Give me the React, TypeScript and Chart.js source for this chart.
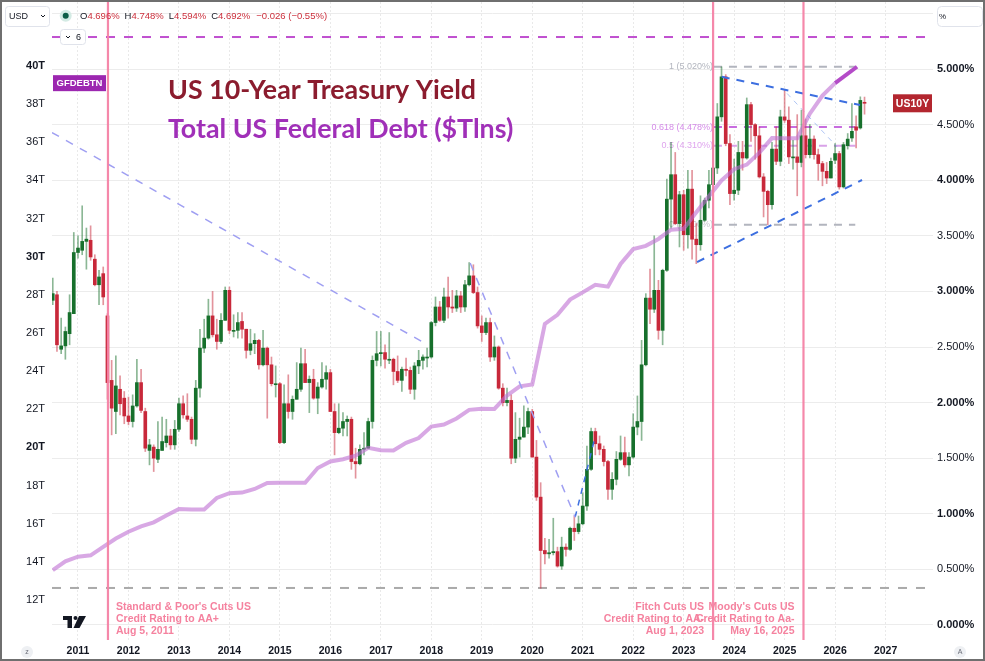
import React, { useEffect, useRef } from "react";
import { Chart, registerables } from "chart.js";

Chart.register(...registerables);

// ===================== DATA =====================
// Monthly candles of the US 10-Year Treasury yield (%): [open, high, low, close]
// y2010 starts with July 2010; every following array is Jan..Dec.
const y2010 = [
  [2.92, 3.12, 2.88, 2.98], [2.97, 3.0, 2.46, 2.52], [2.48, 2.76, 2.44, 2.51],
  [2.51, 2.68, 2.39, 2.64], [2.62, 2.97, 2.52, 2.81], [2.8, 3.53, 2.8, 3.35],
];
const y2011 = [
  [3.35, 3.5, 3.3, 3.39], [3.37, 3.77, 3.33, 3.45], [3.45, 3.57, 3.2, 3.47],
  [3.46, 3.59, 3.28, 3.31], [3.29, 3.33, 3.05, 3.06], [3.06, 3.19, 2.88, 3.13],
  [3.16, 3.22, 2.88, 2.95], [2.78, 2.8, 2.03, 2.18], [2.2, 2.38, 1.71, 1.95],
  [1.92, 2.42, 1.72, 2.15], [2.12, 2.24, 1.89, 1.99], [2.04, 2.1, 1.81, 1.88],
];
const y2012 = [
  [1.88, 2.05, 1.8, 1.83], [1.83, 2.07, 1.78, 1.97], [1.97, 2.39, 1.96, 2.18],
  [2.18, 2.3, 1.91, 1.93], [1.92, 1.95, 1.56, 1.59], [1.57, 1.67, 1.44, 1.62],
  [1.6, 1.62, 1.38, 1.5], [1.49, 1.83, 1.46, 1.58], [1.57, 1.87, 1.57, 1.65],
  [1.64, 1.85, 1.6, 1.7], [1.7, 1.76, 1.58, 1.62], [1.62, 1.84, 1.58, 1.76],
];
const y2013 = [
  [1.76, 2.04, 1.74, 1.99], [1.99, 2.06, 1.86, 1.89], [1.88, 2.08, 1.83, 1.85],
  [1.85, 1.87, 1.63, 1.67], [1.67, 2.2, 1.61, 2.13], [2.13, 2.66, 2.05, 2.49],
  [2.49, 2.75, 2.45, 2.58], [2.58, 2.93, 2.57, 2.78], [2.78, 3.0, 2.59, 2.61],
  [2.61, 2.75, 2.48, 2.55], [2.55, 2.8, 2.53, 2.74], [2.74, 3.04, 2.74, 3.01],
];
const y2014 = [
  [3.01, 3.04, 2.62, 2.65], [2.65, 2.79, 2.59, 2.65], [2.65, 2.81, 2.58, 2.72],
  [2.73, 2.81, 2.58, 2.66], [2.66, 2.66, 2.4, 2.47], [2.47, 2.66, 2.43, 2.53],
  [2.53, 2.62, 2.44, 2.56], [2.56, 2.57, 2.3, 2.34], [2.34, 2.65, 2.33, 2.49],
  [2.49, 2.5, 1.86, 2.34], [2.34, 2.41, 2.15, 2.17], [2.17, 2.33, 2.05, 2.17],
];
const y2015 = [
  [2.17, 2.18, 1.63, 1.64], [1.64, 2.16, 1.63, 1.99], [1.99, 2.25, 1.86, 1.92],
  [1.92, 2.06, 1.85, 2.03], [2.03, 2.36, 2.03, 2.12], [2.12, 2.49, 2.1, 2.35],
  [2.35, 2.48, 2.18, 2.18], [2.18, 2.24, 1.91, 2.21], [2.21, 2.3, 2.03, 2.04],
  [2.04, 2.18, 1.9, 2.14], [2.14, 2.36, 2.13, 2.21], [2.21, 2.33, 2.12, 2.27],
];
const y2016 = [
  [2.27, 2.3, 1.92, 1.92], [1.92, 1.99, 1.53, 1.73], [1.73, 1.99, 1.72, 1.77],
  [1.77, 1.91, 1.7, 1.83], [1.83, 1.88, 1.7, 1.85], [1.85, 1.87, 1.4, 1.47],
  [1.47, 1.59, 1.32, 1.45], [1.45, 1.62, 1.44, 1.58], [1.58, 1.73, 1.53, 1.59],
  [1.59, 1.86, 1.59, 1.83], [1.83, 2.42, 1.77, 2.38], [2.38, 2.64, 2.33, 2.44],
];
const y2017 = [
  [2.44, 2.64, 2.33, 2.45], [2.45, 2.52, 2.31, 2.39], [2.39, 2.63, 2.35, 2.39],
  [2.39, 2.4, 2.16, 2.28], [2.28, 2.42, 2.18, 2.2], [2.2, 2.32, 2.1, 2.3],
  [2.3, 2.4, 2.24, 2.29], [2.29, 2.32, 2.08, 2.12], [2.12, 2.36, 2.03, 2.33],
  [2.33, 2.47, 2.26, 2.38], [2.38, 2.43, 2.3, 2.41], [2.41, 2.49, 2.32, 2.41],
];
const y2018 = [
  [2.41, 2.73, 2.4, 2.72], [2.72, 2.95, 2.69, 2.86], [2.86, 2.91, 2.73, 2.74],
  [2.74, 3.03, 2.72, 2.95], [2.95, 3.13, 2.76, 2.86], [2.86, 3.01, 2.81, 2.85],
  [2.85, 3.01, 2.82, 2.96], [2.96, 3.0, 2.81, 2.86], [2.86, 3.1, 2.82, 3.06],
  [3.06, 3.26, 3.05, 3.14], [3.14, 3.24, 2.98, 2.99], [2.99, 3.04, 2.67, 2.69],
];
const y2019 = [
  [2.69, 2.78, 2.55, 2.63], [2.63, 2.76, 2.61, 2.72], [2.72, 2.76, 2.37, 2.41],
  [2.41, 2.6, 2.38, 2.5], [2.5, 2.51, 2.12, 2.13], [2.13, 2.17, 1.97, 2.0],
  [2.0, 2.13, 1.97, 2.02], [2.02, 2.07, 1.45, 1.5], [1.5, 1.91, 1.46, 1.67],
  [1.67, 1.86, 1.51, 1.69], [1.69, 1.97, 1.69, 1.78], [1.78, 1.95, 1.72, 1.92],
];
const y2020 = [
  [1.92, 1.94, 1.51, 1.51], [1.51, 1.66, 1.12, 1.15], [1.15, 1.28, 0.33, 0.67],
  [0.67, 0.78, 0.55, 0.64], [0.64, 0.77, 0.6, 0.65], [0.65, 0.96, 0.63, 0.66],
  [0.66, 0.7, 0.52, 0.53], [0.53, 0.79, 0.5, 0.7], [0.7, 0.73, 0.62, 0.68],
  [0.68, 0.88, 0.67, 0.87], [0.87, 0.98, 0.76, 0.84], [0.84, 0.98, 0.82, 0.91],
];
const y2021 = [
  [0.91, 1.19, 0.9, 1.07], [1.07, 1.61, 1.03, 1.4], [1.4, 1.77, 1.39, 1.74],
  [1.74, 1.77, 1.53, 1.63], [1.63, 1.7, 1.53, 1.58], [1.58, 1.61, 1.43, 1.47],
  [1.47, 1.48, 1.13, 1.22], [1.22, 1.37, 1.13, 1.31], [1.31, 1.56, 1.26, 1.49],
  [1.49, 1.7, 1.48, 1.55], [1.55, 1.69, 1.42, 1.44], [1.44, 1.55, 1.34, 1.51],
];
const y2022 = [
  [1.51, 1.9, 1.5, 1.78], [1.78, 2.06, 1.71, 1.83], [1.83, 2.56, 1.66, 2.34],
  [2.34, 2.98, 2.33, 2.94], [2.94, 3.2, 2.71, 2.84], [2.84, 3.5, 2.81, 3.01],
  [3.01, 3.1, 2.57, 2.65], [2.65, 3.2, 2.52, 3.19], [3.19, 4.01, 3.18, 3.83],
  [3.83, 4.34, 3.57, 4.05], [4.05, 4.25, 3.6, 3.61], [3.61, 3.9, 3.4, 3.87],
];
const y2023 = [
  [3.87, 3.91, 3.37, 3.51], [3.51, 4.09, 3.39, 3.92], [3.92, 4.09, 3.29, 3.47],
  [3.47, 3.61, 3.25, 3.42], [3.42, 3.86, 3.37, 3.64], [3.64, 3.84, 3.63, 3.82],
  [3.82, 4.09, 3.75, 3.96], [3.96, 4.36, 3.91, 4.11], [4.11, 4.69, 4.06, 4.57],
  [4.57, 5.02, 4.53, 4.93], [4.93, 4.95, 4.31, 4.33], [4.33, 4.41, 3.78, 3.88],
];
const y2024 = [
  [3.88, 4.19, 3.82, 3.91], [3.91, 4.35, 3.87, 4.25], [4.25, 4.35, 4.09, 4.2],
  [4.2, 4.74, 4.19, 4.68], [4.68, 4.7, 4.35, 4.5], [4.5, 4.51, 4.19, 4.4],
  [4.4, 4.48, 4.02, 4.03], [4.03, 4.06, 3.67, 3.9], [3.9, 3.91, 3.6, 3.78],
  [3.78, 4.34, 3.74, 4.28], [4.28, 4.48, 4.14, 4.17], [4.17, 4.63, 4.13, 4.57],
];
const y2025 = [
  [4.57, 4.81, 4.52, 4.54], [4.54, 4.66, 4.15, 4.21], [4.21, 4.36, 4.1, 4.21],
  [4.21, 4.59, 3.86, 4.16], [4.16, 4.63, 4.12, 4.4], [4.4, 4.55, 4.2, 4.23],
  [4.23, 4.5, 4.2, 4.37], [4.37, 4.4, 4.19, 4.23], [4.23, 4.28, 4.0, 4.15],
  [4.15, 4.17, 3.95, 4.08], [4.08, 4.16, 3.97, 4.02], [4.02, 4.2, 4.02, 4.17],
];
const y2026 = [
  [4.18, 4.33, 4.15, 4.24], [4.24, 4.26, 3.92, 3.94], [3.94, 4.34, 3.93, 4.32],
  [4.31, 4.42, 4.28, 4.37], [4.38, 4.69, 4.35, 4.44], [4.48, 4.58, 4.29, 4.45],
  [4.47, 4.75, 4.46, 4.718], [4.696, 4.748, 4.594, 4.692],
];
const candleYears = [y2010, y2011, y2012, y2013, y2014, y2015, y2016, y2017, y2018,
  y2019, y2020, y2021, y2022, y2023, y2024, y2025, y2026];
const firstCandle = 2010.5; // July 2010

// Total US Federal Debt (GFDEBTN), $ trillions, quarterly from Q3 2010
const debtQuarterly = [
  13.56, 14.03,
  14.27, 14.34, 14.79, 15.22,
  15.58, 15.86, 16.07, 16.43,
  16.77, 16.74, 16.74, 17.35,
  17.6, 17.63, 17.82, 18.14,
  18.15, 18.15, 18.15, 18.92,
  19.26, 19.38, 19.57, 19.98,
  19.85, 19.84, 20.24, 20.49,
  21.09, 21.2, 21.52, 21.97,
  22.03, 22.02, 22.72, 23.2,
  23.3, 26.48, 26.95, 27.75,
  28.13, 28.53, 28.43, 29.62,
  30.4, 30.57, 30.93, 31.42,
  31.46, 32.33, 33.17, 34.0,
  34.59, 34.83, 35.46, 36.22,
  36.21, 36.21, 37.5, 38.45,
  39.1,
];
const firstDebt = 2010.5;
const debtExtX = [2026.0, 2026.435];
const debtExtY = [39.1, 39.96];

// Axis ticks
const yearTicks = [2011, 2012, 2013, 2014, 2015, 2016, 2017, 2018, 2019, 2020, 2021, 2022, 2023, 2024, 2025, 2026, 2027];
const pctTicks = [0, 0.5, 1, 1.5, 2, 2.5, 3, 3.5, 4, 4.5, 5, 5.5];
const debtTicks = [12, 14, 16, 18, 20, 22, 24, 26, 28, 30, 32, 34, 36, 38, 40];

// Credit rating events
const ratingDates = [2011.594, 2023.583, 2025.374];
const ratingNotes = [
  ["Standard & Poor's Cuts US", "Credit Rating to AA+", "Aug 5, 2011"],
  ["Fitch Cuts US", "Credit Rating to AA-", "Aug 1, 2023"],
  ["Moody's Cuts US", "Credit Rating to Aa-", "May 16, 2025"],
];

// Fibonacci retracement
const fibLevels = [5.02, 4.478, 4.31, 3.6];
const fibLabels = ["1 (5.020%)", "0.618 (4.478%)", "0.5 (4.310%)", "0 (3.600%)"];
const fibRange = [2023.6, 2026.4];

// Horizontal levels
const capLevel = 5.288;
const floorLevel = 0.333;

// Trend lines [x0, x1], [y0, y1]
const upperTrendX = [2023.754, 2026.494], upperTrendY = [4.93, 4.676];
const lowerTrendX = [2023.265, 2026.534], lowerTrendY = [3.264, 4.002];
const longTrendX = [2010.485, 2017.935], longTrendY = [4.429, 2.518];
const dropTrendX = [2018.77, 2020.85], dropTrendY = [3.255, 0.97];
const reboundX = [2020.85, 2021.25], reboundY = [0.97, 1.7];
const pitchX = [2025.05, 2026.04], pitchY = [4.78, 4.3];

const titleLine1 = "US 10-Year Treasury Yield";
const titleLine2 = "Total US Federal Debt ($Tlns)";

// ===================== CHART =====================
const X_MIN = 2010.485, X_MAX = 2027.94;
const Y_MIN = -0.135, Y_MAX = 5.603;
const D_MIN = 9.902, D_MAX = 43.356;

const FONT = "'Liberation Sans', Arial, sans-serif";
const TFONT = "Lato, 'Liberation Sans', sans-serif";

const candles = candleYears.flat();
const candleX = candles.map((_, i) => firstCandle + i / 12);
const isUp = candles.map((c) => c[3] >= c[0]);
const lastCandle = candles[candles.length - 1];
const prevClose = candles[candles.length - 2][3];
const debtX = debtQuarterly.map((_, i) => firstDebt + i * 0.25);

const seg = (xs: number[], ys: number[]) => xs.map((x, i) => ({ x, y: ys[i] }));

function lineDs(data: any[], color: string, width: number, dash: number[], order: number, axis = "y") {
  return {
    type: "line" as const,
    data,
    borderColor: color,
    borderWidth: width,
    borderDash: dash,
    pointRadius: 0,
    fill: false,
    tension: 0,
    order,
    yAxisID: axis,
  };
}

function roundRect(ctx: CanvasRenderingContext2D, x: number, y: number, w: number, h: number, r: number) {
  ctx.beginPath();
  ctx.moveTo(x + r, y);
  ctx.arcTo(x + w, y, x + w, y + h, r);
  ctx.arcTo(x + w, y + h, x, y + h, r);
  ctx.arcTo(x, y + h, x, y, r);
  ctx.arcTo(x, y, x + w, y, r);
  ctx.closePath();
}

const fibTextColors = ["#b2b5be", "#d48be8", "#dfa5ee", "#c4c6cc"];

const overlayPlugin = {
  id: "overlay",
  beforeDraw(chart: any) {
    const { ctx, width, height } = chart;
    ctx.save();
    ctx.fillStyle = "#ffffff";
    ctx.fillRect(0, 0, width, height);
    ctx.restore();
  },
  beforeDatasetsDraw(chart: any) {
    const { ctx } = chart;
    const xs = chart.scales.x, ys = chart.scales.y;
    ctx.save();
    ctx.font = `9px ${FONT}`;
    ctx.textAlign = "right";
    ctx.textBaseline = "middle";
    const lx = xs.getPixelForValue(fibRange[0]) - 1;
    fibLevels.forEach((lv, i) => {
      ctx.fillStyle = fibTextColors[i];
      ctx.fillText(fibLabels[i], lx, ys.getPixelForValue(lv));
    });
    ctx.restore();
  },
  afterDraw(chart: any) {
    const { ctx, width, height } = chart;
    const xs = chart.scales.x, ys = chart.scales.y, yd = chart.scales.yL;
    ctx.save();

    // Titles
    ctx.textAlign = "left";
    ctx.textBaseline = "alphabetic";
    ctx.font = `bold 26.8px ${TFONT}`;
    ctx.fillStyle = "#8b1c2e";
    ctx.fillText(titleLine1, 168, 99);
    ctx.fillStyle = "#a030b8";
    ctx.fillText(titleLine2, 168, 138);

    // Rating notes
    ctx.font = `bold 10.5px ${FONT}`;
    ctx.fillStyle = "#f5829f";
    ctx.textBaseline = "middle";
    ratingDates.forEach((d, i) => {
      const px = xs.getPixelForValue(d);
      const left = i === 0;
      ctx.textAlign = left ? "left" : "right";
      const tx = left ? px + 8 : px - 9;
      ratingNotes[i].forEach((line, j) => ctx.fillText(line, tx, 607 + j * 12));
    });

    // GFDEBTN label
    const dy = yd.getPixelForValue(debtQuarterly[debtQuarterly.length - 1]);
    ctx.fillStyle = "#9c27b0";
    ctx.fillRect(53, dy - 8, 53, 16);
    ctx.fillStyle = "#ffffff";
    ctx.font = `bold 9.5px ${FONT}`;
    ctx.textAlign = "center";
    ctx.fillText("GFDEBTN", 79.5, dy + 0.5);

    // US10Y label
    const uy = ys.getPixelForValue(lastCandle[3]);
    ctx.fillStyle = "#b3262f";
    ctx.fillRect(893, uy - 9, 39, 18);
    ctx.fillStyle = "#ffffff";
    ctx.font = `bold 10.5px ${FONT}`;
    ctx.fillText("US10Y", 912.5, uy + 0.5);

    // Header: symbol box
    ctx.strokeStyle = "#e0e3eb";
    ctx.lineWidth = 1;
    ctx.fillStyle = "#ffffff";
    roundRect(ctx, 5.5, 6.5, 44, 20, 3);
    ctx.fill();
    ctx.stroke();
    ctx.fillStyle = "#131722";
    ctx.font = `9px ${FONT}`;
    ctx.textAlign = "left";
    ctx.fillText("USD", 9, 16.5);
    ctx.strokeStyle = "#131722";
    ctx.beginPath();
    ctx.moveTo(41, 15);
    ctx.lineTo(43, 17);
    ctx.lineTo(45, 15);
    ctx.stroke();

    // status icon
    ctx.fillStyle = "#d4ebe4";
    ctx.beginPath();
    ctx.arc(65.7, 15.7, 6, 0, Math.PI * 2);
    ctx.fill();
    ctx.fillStyle = "#0d5e47";
    ctx.beginPath();
    ctx.arc(65.7, 15.7, 3, 0, Math.PI * 2);
    ctx.fill();

    // OHLC
    const red = "#cc2f3c";
    ctx.font = `9.5px ${FONT}`;
    let hx = 80;
    const hy = 16.5;
    const parts = [["O", lastCandle[0]], ["H", lastCandle[1]], ["L", lastCandle[2]], ["C", lastCandle[3]]];
    parts.forEach(([k, v]) => {
      ctx.fillStyle = "#131722";
      ctx.fillText(k as string, hx, hy);
      hx += ctx.measureText(k as string).width;
      const s = (v as number).toFixed(3) + "%";
      ctx.fillStyle = red;
      ctx.fillText(s, hx, hy);
      hx += ctx.measureText(s).width + 5;
    });
    const chg = lastCandle[3] - prevClose;
    const chgPct = (chg / prevClose) * 100;
    ctx.fillStyle = red;
    ctx.fillText(`\u2212${Math.abs(chg).toFixed(3)} (\u2212${Math.abs(chgPct).toFixed(2)}%)`, hx + 1, hy);

    // collapse box "6"
    ctx.strokeStyle = "#e0e3eb";
    ctx.fillStyle = "#ffffff";
    roundRect(ctx, 60.5, 29.5, 25, 15, 3);
    ctx.fill();
    ctx.stroke();
    ctx.strokeStyle = "#131722";
    ctx.beginPath();
    ctx.moveTo(66, 36);
    ctx.lineTo(68, 38);
    ctx.lineTo(70, 36);
    ctx.stroke();
    ctx.fillStyle = "#131722";
    ctx.font = `9px ${FONT}`;
    ctx.fillText("6", 76, 37.5);

    // % box
    ctx.strokeStyle = "#e0e3eb";
    ctx.fillStyle = "#ffffff";
    roundRect(ctx, 937.5, 6.5, 45, 20, 4);
    ctx.fill();
    ctx.stroke();
    ctx.fillStyle = "#131722";
    ctx.font = `8px ${FONT}`;
    ctx.fillText("%", 939, 16.5);

    // TradingView logo
    ctx.fillStyle = "#131722";
    ctx.fillRect(63, 616, 9, 4);
    ctx.fillRect(67.5, 616, 4.5, 12);
    ctx.beginPath();
    ctx.arc(75.5, 618, 2, 0, Math.PI * 2);
    ctx.fill();
    ctx.beginPath();
    ctx.moveTo(79, 616);
    ctx.lineTo(86, 616);
    ctx.lineTo(79.5, 628);
    ctx.lineTo(73.5, 628);
    ctx.closePath();
    ctx.fill();

    // small corner buttons
    ctx.fillStyle = "#eef0f3";
    ctx.beginPath();
    ctx.arc(27, 652, 6, 0, Math.PI * 2);
    ctx.fill();
    ctx.beginPath();
    ctx.arc(960, 652, 6, 0, Math.PI * 2);
    ctx.fill();
    ctx.fillStyle = "#6a6d78";
    ctx.font = `7px ${FONT}`;
    ctx.textAlign = "center";
    ctx.fillText("z", 27, 652.5);
    ctx.fillText("A", 960, 652.5);

    // frame
    ctx.strokeStyle = "#6f6f6f";
    ctx.lineWidth = 2;
    ctx.strokeRect(1, 1, width - 2, height - 2);
    ctx.restore();
  },
};

export default function App() {
  const ref = useRef<HTMLCanvasElement>(null);
  useEffect(() => {
    document.body.style.margin = "0";
    const green = "#17702c", redc = "#c8283a";
    const datasets: any[] = [
      // fib levels and horizontal levels (behind candles)
      lineDs(seg(fibRange, [fibLevels[0], fibLevels[0]]), "#b2b5be", 2, [8, 7], 30),
      lineDs(seg(fibRange, [fibLevels[1], fibLevels[1]]), "#c86ddf", 2, [8, 7], 30),
      lineDs(seg(fibRange, [fibLevels[2], fibLevels[2]]), "#d9a2e8", 2, [8, 7], 30),
      lineDs(seg(fibRange, [fibLevels[3], fibLevels[3]]), "#b2b5be", 2, [8, 7], 30),
      lineDs(seg([X_MIN, X_MAX], [capLevel, capLevel]), "#c050d0", 2, [9, 9], 30),
      lineDs(seg([X_MIN, X_MAX], [floorLevel, floorLevel]), "#aaaaaa", 2, [9, 9], 30),
      // candles
      {
        type: "bar",
        data: candles.map((c, i) => ({ x: candleX[i], y: [c[2], c[1]] })),
        backgroundColor: isUp.map((u) => (u ? "rgba(23,112,44,0.5)" : "rgba(200,40,58,0.5)")),
        barThickness: 1,
        grouped: false,
        minBarLength: 1,
        borderWidth: 0,
        order: 21,
        yAxisID: "y",
      },
      {
        type: "bar",
        data: candles.map((c, i) => ({ x: candleX[i], y: [c[0], c[3]] })),
        backgroundColor: isUp.map((u) => (u ? green : redc)),
        barThickness: 3,
        grouped: false,
        minBarLength: 1,
        borderWidth: 0,
        order: 20,
        yAxisID: "y",
      },
      // debt line
      lineDs(seg(debtX, debtQuarterly), "rgba(190,110,210,0.6)", 4, [], 6, "yL"),
      lineDs(seg(debtExtX, debtExtY), "#b44bc8", 4, [], 5, "yL"),
      // trend lines
      lineDs(seg(longTrendX, longTrendY), "#9f9ff2", 1.5, [8, 8], 4),
      lineDs(seg(dropTrendX, dropTrendY), "#9f9ff2", 1.5, [8, 8], 4),
      lineDs(seg(reboundX, reboundY), "#3d6fe0", 1.5, [6, 6], 4),
      lineDs(seg(pitchX, pitchY), "rgba(110,150,235,0.55)", 1, [5, 5], 4),
      lineDs(seg(upperTrendX, upperTrendY), "#3d6fe0", 2, [8, 7], 3),
      lineDs(seg(lowerTrendX, lowerTrendY), "#3d6fe0", 2, [8, 7], 3),
      // rating event lines
      ...ratingDates.map((d) => lineDs(seg([d, d], [Y_MIN, Y_MAX]), "rgba(244,130,165,0.95)", 2.2, [], 1)),
    ];

    const noPadV = (s: any) => { s.width = 52; s.paddingTop = 0; s.paddingBottom = 0; };

    const chart = new Chart(ref.current as HTMLCanvasElement, {
      type: "bar",
      data: { datasets },
      plugins: [overlayPlugin],
      options: {
        animation: false,
        responsive: false,
        maintainAspectRatio: false,
        events: [],
        layout: { padding: { top: 2, left: 0, right: 0, bottom: 0 } },
        plugins: { legend: { display: false }, tooltip: { enabled: false } },
        scales: {
          x: {
            type: "linear",
            min: X_MIN,
            max: X_MAX,
            offset: false,
            afterBuildTicks: (s: any) => { s.ticks = yearTicks.map((v) => ({ value: v })); },
            afterFit: (s: any) => { s.height = 21; s.paddingLeft = 0; s.paddingRight = 0; },
            grid: { color: "#e9e9e9", drawTicks: false, offset: false, lineWidth: 1 },
            border: { display: false, dash: [2, 2] },
            ticks: {
              autoSkip: false,
              maxRotation: 0,
              padding: 5,
              color: "#131722",
              font: { family: FONT, size: 10.5, weight: "bold" },
              callback: (v: any) => String(v),
            },
          },
          y: {
            type: "linear",
            position: "right",
            min: Y_MIN,
            max: Y_MAX,
            afterBuildTicks: (s: any) => { s.ticks = pctTicks.map((v) => ({ value: v })); },
            afterFit: noPadV,
            grid: { color: "#ececec", drawTicks: false, lineWidth: 1 },
            border: { display: false },
            ticks: {
              autoSkip: false,
              padding: 4,
              crossAlign: "near",
              color: "#131722",
              font: (c: any) => ({ family: FONT, size: 11, weight: c.tick && Number.isInteger(c.tick.value) ? "bold" : "normal" }),
              callback: (v: any) => (v > 5.2 ? "" : Number(v).toFixed(3) + "%"),
            },
          },
          yL: {
            type: "linear",
            position: "left",
            min: D_MIN,
            max: D_MAX,
            afterBuildTicks: (s: any) => { s.ticks = debtTicks.map((v) => ({ value: v })); },
            afterFit: noPadV,
            grid: { display: false, drawTicks: false },
            border: { display: false },
            ticks: {
              autoSkip: false,
              padding: 7,
              color: "#131722",
              font: (c: any) => ({ family: FONT, size: 11, weight: c.tick && c.tick.value % 10 === 0 ? "bold" : "normal" }),
              callback: (v: any) => `${v}T`,
            },
          },
        },
      } as any,
    });
    return () => chart.destroy();
  }, []);

  return (
    <div style={{ position: "absolute", left: 0, top: 0, width: 985, height: 661 }}>
      <canvas ref={ref} width={985} height={661} style={{ display: "block", width: 985, height: 661 }} />
    </div>
  );
}
